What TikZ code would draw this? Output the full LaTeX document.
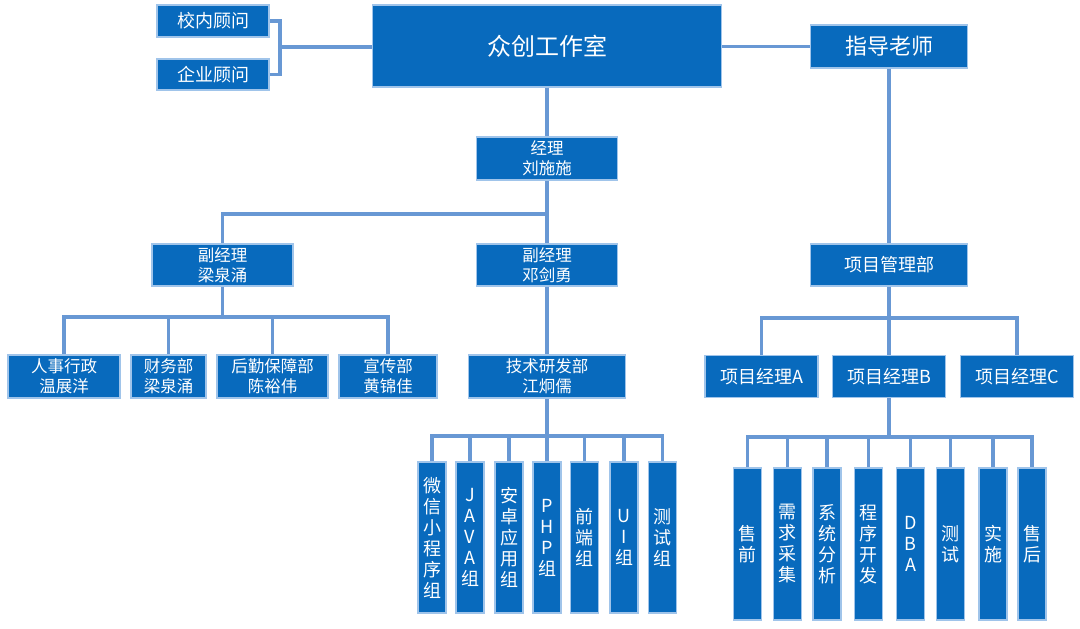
\documentclass[tikz,border=0pt]{standalone}
\usepackage{fontspec}
\setmainfont{Noto Sans CJK SC}
\definecolor{boxc}{RGB}{8,106,189}
\definecolor{edgec}{RGB}{160,196,234}
\definecolor{linec}{RGB}{104,152,212}
\tikzset{
  box/.style={draw=edgec, fill=boxc, text=white, inner sep=0pt, line width=1.2pt, align=center, font=\fontsize{16.5}{20}\selectfont},
  big/.style={font=\fontsize{18}{22}\selectfont},
  vbox/.style={box, minimum width=28pt, font=\fontsize{18}{21}\selectfont},
  conn/.style={draw=linec, line width=3.2pt}
}
\begin{document}
\begin{tikzpicture}[x=1pt,y=-1pt]
\fill[white] (0,0) rectangle (1080,629);
\useasboundingbox (0,0) rectangle (1080,629);
% top level
\node[box, big, minimum width=112pt, minimum height=32pt] (xn) at (213,21) {校内顾问};
\node[box, big, minimum width=112pt, minimum height=31pt] (qy) at (213,74.5) {企业顾问};
\node[box, font=\fontsize{24}{28}\selectfont, minimum width=349pt, minimum height=82pt] (main) at (547,46) {众创工作室};
\node[box, font=\fontsize{22}{26}\selectfont, minimum width=157pt, minimum height=43pt] (zd) at (889,46.5) {指导老师};
% managers
\node[box, minimum width=141pt, minimum height=43pt] (jl) at (547,158.5) {经理\\刘施施};
\node[box, minimum width=141pt, minimum height=42pt] (fj1) at (222.5,265) {副经理\\梁泉涌};
\node[box, minimum width=141pt, minimum height=42pt] (fj2) at (547,265) {副经理\\邓剑勇};
\node[box, big, minimum width=157pt, minimum height=42pt] (xm) at (889,265) {项目管理部};
% third row
\node[box, minimum width=112pt, minimum height=43pt] (rs) at (64,376.5) {人事行政\\温展洋};
\node[box, minimum width=75pt, minimum height=43pt] (cw) at (168.5,376.5) {财务部\\梁泉涌};
\node[box, minimum width=111pt, minimum height=43pt] (hq) at (272.5,376.5) {后勤保障部\\陈裕伟};
\node[box, minimum width=98pt, minimum height=43pt] (xc) at (388,376.5) {宣传部\\黄锦佳};
\node[box, minimum width=157pt, minimum height=43pt] (js) at (547,376.5) {技术研发部\\江炯儒};
\node[box, big, minimum width=113pt, minimum height=42pt] (pa) at (761.5,376.5) {项目经理A};
\node[box, big, minimum width=113pt, minimum height=42pt] (pb) at (889,376.5) {项目经理B};
\node[box, big, minimum width=113pt, minimum height=42pt] (pc) at (1017,376.5) {项目经理C};
% tech groups
\node[vbox, minimum height=151pt] (g1) at (432,537.5) {微\\信\\小\\程\\序\\组};
\node[vbox, minimum height=151pt] (g2) at (470,537.5) {J\\A\\V\\A\\组};
\node[vbox, minimum height=151pt] (g3) at (509,537.5) {安\\卓\\应\\用\\组};
\node[vbox, minimum height=151pt] (g4) at (547,537.5) {P\\H\\P\\组};
\node[vbox, minimum height=151pt] (g5) at (584.5,537.5) {前\\端\\组};
\node[vbox, minimum height=151pt] (g6) at (624,537.5) {U\\I\\组};
\node[vbox, minimum height=151pt] (g7) at (662.5,537.5) {测\\试\\组};
% project groups
\node[vbox, minimum height=152pt] (h1) at (747.5,544) {售\\前};
\node[vbox, minimum height=152pt] (h2) at (787.5,544) {需\\求\\采\\集};
\node[vbox, minimum height=152pt] (h3) at (827,544) {系\\统\\分\\析};
\node[vbox, minimum height=152pt] (h4) at (868.5,544) {程\\序\\开\\发};
\node[vbox, minimum height=152pt] (h5) at (910.5,544) {D\\B\\A};
\node[vbox, minimum height=152pt] (h6) at (950.5,544) {测\\试};
\node[vbox, minimum height=152pt] (h7) at (993,544) {实\\施};
\node[vbox, minimum height=152pt] (h8) at (1032,544) {售\\后};
% junctions
\coordinate (br) at (280,47);
\coordinate (b1) at (547,214);
\coordinate (b2) at (222.5,317);
\coordinate (b3) at (547,436);
\coordinate (b4) at (889,318);
\coordinate (b5) at (889,437);
% connectors
\draw[conn] (xn.east) -| (br);
\draw[conn] (qy.east) -| (br);
\draw[conn] (br) -- (main.west |- br);
\draw[conn] (main.east |- zd.west) -- (zd.west);
\draw[conn] (zd.south) -- (xm.north);
\draw[conn] (main.south -| jl.north) -- (jl.north);
\draw[conn] (jl.south) -- (fj2.north);
\draw[conn] (b1) -| (fj1.north);
\draw[conn] (fj1.south) -- (b2);
\draw[conn] (rs.north) |- (b2) -| (xc.north);
\draw[conn] (cw.north) -- (cw.north |- b2);
\draw[conn] (hq.north) -- (hq.north |- b2);
\draw[conn] (fj2.south) -- (js.north);
\draw[conn] (js.south) -- (b3);
\draw[conn] (g1.north) |- (b3) -| (g7.north);
\foreach \g in {g2,g3,g4,g5,g6} \draw[conn] (\g.north) -- (\g.north |- b3);
\draw[conn] (xm.south) -- (b4);
\draw[conn] (pa.north) |- (b4) -| (pc.north);
\draw[conn] (pb.north) -- (b4);
\draw[conn] (pb.south) -- (b5);
\draw[conn] (h1.north) |- (b5) -| (h8.north);
\foreach \h in {h2,h3,h4,h5,h6,h7} \draw[conn] (\h.north) -- (\h.north |- b5);
\end{tikzpicture}
\end{document}
